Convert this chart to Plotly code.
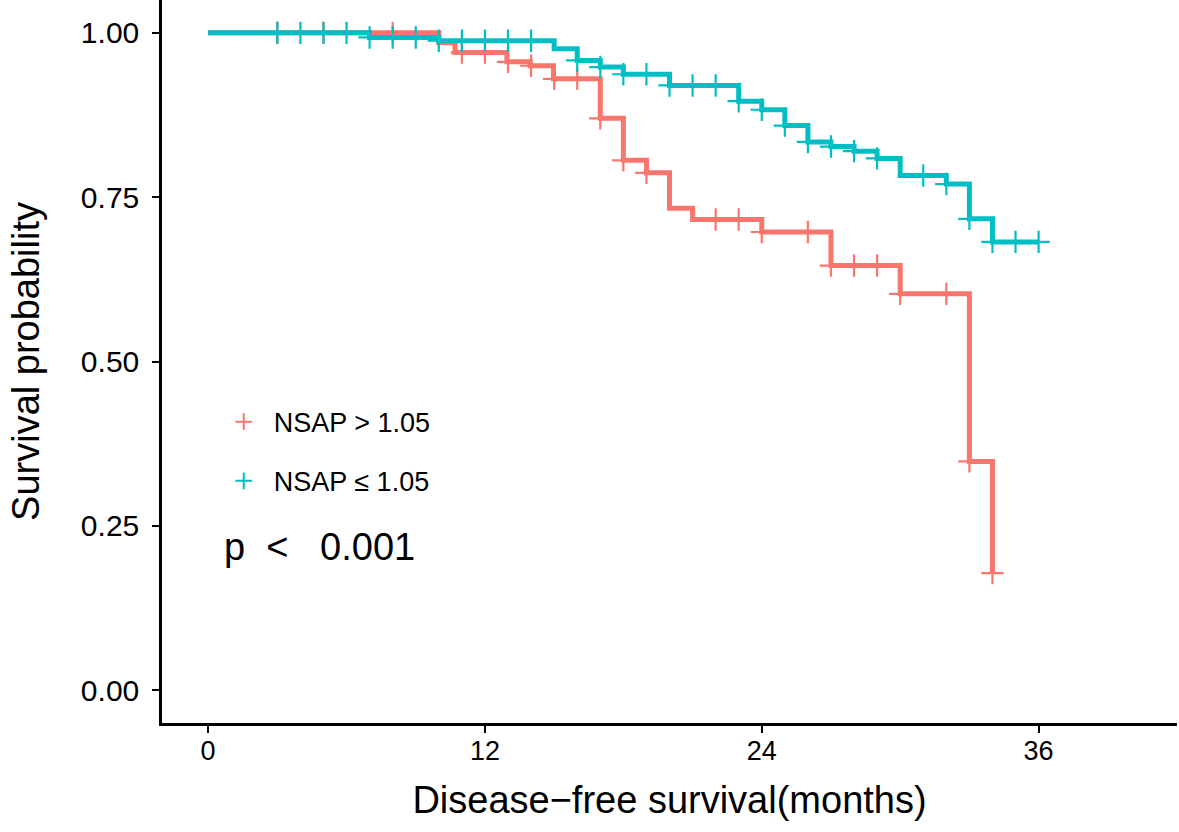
import plotly.graph_objects as go

# ---- data ----
red_name = "NSAP > 1.05"
red_event_times = [0, 10.0, 10.7, 12.95, 13.96, 14.97, 17.0, 18.0, 19.0, 20.0, 21.0, 24.0, 27.0, 30.0, 33.0, 34.0]
red_surv = [1.0, 0.985, 0.970, 0.956, 0.950, 0.930, 0.870, 0.806, 0.787, 0.733, 0.716, 0.697, 0.646, 0.603, 0.348, 0.178]
red_end = 34.0
red_censor = [3, 5, 8, 11, 12, 13, 14, 15, 16, 17, 18, 19, 22, 23, 24, 26, 27, 28, 29, 30, 32, 33, 34]

teal_name = "NSAP ≤ 1.05"
teal_event_times = [0, 7.0, 10.0, 15.0, 16.0, 17.0, 18.0, 20.0, 23.0, 24.0, 25.0, 26.0, 27.0, 28.0, 29.0, 30.0, 32.0, 33.0, 34.0]
teal_surv = [1.0, 0.993, 0.988, 0.976, 0.958, 0.948, 0.937, 0.920, 0.896, 0.883, 0.859, 0.834, 0.827, 0.820, 0.809, 0.783, 0.770, 0.717, 0.682]
teal_end = 36.0
teal_censor = [3, 4, 5, 6, 7, 8, 9, 10, 11, 12, 13, 14, 16, 17, 18, 19, 20, 21, 22, 23, 24, 25, 26, 27, 28, 29, 31, 32, 33, 34, 35, 36]

x_ticks = [0, 12, 24, 36]
y_ticks = [0, 0.25, 0.5, 0.75, 1.0]
y_ticktext = ["0.00", "0.25", "0.50", "0.75", "1.00"]

RED = "#F8766D"
TEAL = "#00BFC4"
FONT = "Liberation Sans, Arial, sans-serif"


def surv_at(t, times, surv):
    val = surv[0]
    for tt, s in zip(times, surv):
        if tt <= t:
            val = s
    return val


fig = go.Figure()
for name, times, surv, end, cens, col, grp in [
    (red_name, red_event_times, red_surv, red_end, red_censor, RED, "a"),
    (teal_name, teal_event_times, teal_surv, teal_end, teal_censor, TEAL, "b"),
]:
    xs = list(times) + [end]
    ys = list(surv) + [surv[-1]]
    fig.add_trace(go.Scatter(
        x=xs, y=ys, mode="lines", line=dict(color=col, width=5, shape="hv"),
        showlegend=False, legendgroup=grp, hoverinfo="skip"))
    fig.add_trace(go.Scatter(
        x=cens, y=[surv_at(c, times, surv) for c in cens], mode="markers",
        marker=dict(symbol="cross-thin", size=16, line=dict(color=col, width=2.2), color=col),
        name=name, legendgroup=grp, showlegend=True))

fig.add_annotation(x=0.0595, y=0.243, xref="paper", yref="paper", xanchor="left", yanchor="middle",
                   text="p  <   0.001", showarrow=False,
                   font=dict(family=FONT, size=38, color="black"))

fig.update_layout(
    width=1179, height=832,
    margin=dict(l=162, r=2, t=0, b=109),
    plot_bgcolor="white", paper_bgcolor="white",
    font=dict(family=FONT, color="black"),
    legend=dict(x=0.051, y=0.450, xanchor="left", yanchor="top",
                font=dict(family=FONT, size=27, color="black"),
                bgcolor="rgba(0,0,0,0)", tracegroupgap=21, traceorder="grouped",
                itemsizing="constant", itemwidth=50),
    xaxis=dict(range=[-2, 42], tickvals=x_ticks, showgrid=False, zeroline=False,
               showline=True, linecolor="black", linewidth=2.5,
               ticks="outside", ticklen=7, tickwidth=2, tickcolor="black",
               ticklabelstandoff=-5,
               tickfont=dict(family=FONT, size=27, color="black"),
               title=dict(text="\u00a0\u00a0Disease−free survival(months)",
                          font=dict(family=FONT, size=38, color="black"), standoff=22)),
    yaxis=dict(range=[-0.05, 1.05], tickvals=y_ticks, ticktext=y_ticktext, showgrid=False,
               zeroline=False, showline=True, linecolor="black", linewidth=2.5,
               ticks="outside", ticklen=7, tickwidth=2, tickcolor="black",
               ticklabelstandoff=7,
               tickfont=dict(family=FONT, size=30, color="black"),
               title=dict(text="Survival probability",
                          font=dict(family=FONT, size=38, color="black"), standoff=30)),
)

fig.write_html("out.html", post_script="document.body.style.margin='0';",
               config={"displayModeBar": False})
